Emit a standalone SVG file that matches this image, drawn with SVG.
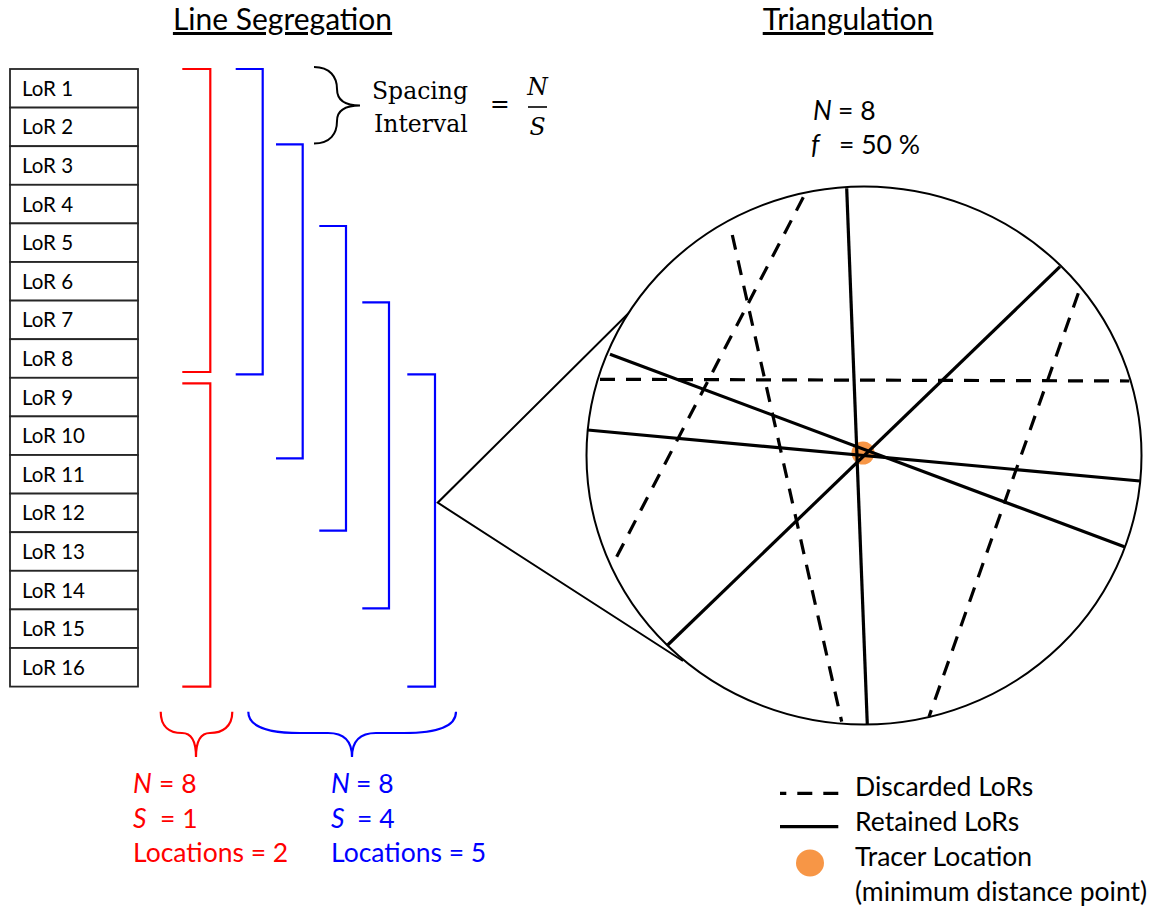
<svg xmlns="http://www.w3.org/2000/svg" width="1163" height="907" viewBox="0 0 1163 907">
<style>
.box{fill:#fff;stroke:#262626;stroke-width:1.8}
.lor{font-family:Lato,"Open Sans",sans-serif;font-size:20.5px;fill:#000}
.t{font-family:Lato,"Open Sans",sans-serif;fill:#000}
.title{font-size:30px;text-decoration:underline}
.big{font-size:26.5px}
.rt{fill:#FF0000}
.bt{fill:#0000FF}
.serif{font-family:"DejaVu Serif","Liberation Serif",serif;font-size:23.5px;fill:#000}
.it{font-style:italic}
.red{stroke:#FF0000;fill:none;stroke-width:2.2}
.blue{stroke:#0000FF;fill:none;stroke-width:2.2}
.thin{stroke:#000;fill:none;stroke-width:2}
.solid{stroke:#000;fill:none;stroke-width:3.2}
.dash{stroke:#000;fill:none;stroke-width:3.2;stroke-dasharray:15 11}
</style>
<rect width="1163" height="907" fill="#fff"/>
<text class="t title" x="282.5" y="30" text-anchor="middle">Line Segregation</text>
<text class="t title" x="848" y="30" text-anchor="middle">Triangulation</text>

<g id="lor-table">
<g id="lor1"><rect class="box" x="10" y="69" width="128" height="38.6"/><text class="lor" x="22" y="95.7">LoR 1</text></g>
<g id="lor2"><rect class="box" x="10" y="107.6" width="128" height="38.6"/><text class="lor" x="22" y="134.3">LoR 2</text></g>
<g id="lor3"><rect class="box" x="10" y="146.2" width="128" height="38.6"/><text class="lor" x="22" y="172.9">LoR 3</text></g>
<g id="lor4"><rect class="box" x="10" y="184.8" width="128" height="38.6"/><text class="lor" x="22" y="211.5">LoR 4</text></g>
<g id="lor5"><rect class="box" x="10" y="223.4" width="128" height="38.6"/><text class="lor" x="22" y="250.1">LoR 5</text></g>
<g id="lor6"><rect class="box" x="10" y="262" width="128" height="38.6"/><text class="lor" x="22" y="288.7">LoR 6</text></g>
<g id="lor7"><rect class="box" x="10" y="300.6" width="128" height="38.6"/><text class="lor" x="22" y="327.3">LoR 7</text></g>
<g id="lor8"><rect class="box" x="10" y="339.2" width="128" height="38.6"/><text class="lor" x="22" y="365.9">LoR 8</text></g>
<g id="lor9"><rect class="box" x="10" y="377.8" width="128" height="38.6"/><text class="lor" x="22" y="404.5">LoR 9</text></g>
<g id="lor10"><rect class="box" x="10" y="416.4" width="128" height="38.6"/><text class="lor" x="22" y="443.1">LoR 10</text></g>
<g id="lor11"><rect class="box" x="10" y="455" width="128" height="38.6"/><text class="lor" x="22" y="481.7">LoR 11</text></g>
<g id="lor12"><rect class="box" x="10" y="493.6" width="128" height="38.6"/><text class="lor" x="22" y="520.3">LoR 12</text></g>
<g id="lor13"><rect class="box" x="10" y="532.2" width="128" height="38.6"/><text class="lor" x="22" y="558.9">LoR 13</text></g>
<g id="lor14"><rect class="box" x="10" y="570.8" width="128" height="38.6"/><text class="lor" x="22" y="597.5">LoR 14</text></g>
<g id="lor15"><rect class="box" x="10" y="609.4" width="128" height="38.6"/><text class="lor" x="22" y="636.1">LoR 15</text></g>
<g id="lor16"><rect class="box" x="10" y="648" width="128" height="38.6"/><text class="lor" x="22" y="674.7">LoR 16</text></g>
</g>

<g id="connectors">
<path class="red" d="M182.3,69 H210.3 V372 H182.3"/>
<path class="red" d="M182.3,383.3 H210.3 V686.7 H182.3"/>
<path class="blue" d="M235.7,69 H262.7 V374.3 H235.7"/>
<path class="blue" d="M276,144.3 H302.7 V458.3 H276"/>
<path class="blue" d="M319.3,226 H346 V530.7 H319.3"/>
<path class="blue" d="M362.3,302.3 H389 V608.3 H362.3"/>
<path class="blue" d="M407.3,374.3 H435 V686.7 H407.3"/>
<path class="thin" d="M630,311.7 L437.7,502.7 L683,661"/>
<path class="thin" stroke-width="2.8" d="M314,67 C330,67 337,77 337,89 C337,100 344,105.5 360,105.5 C344,105.5 337,111 337,121 C337,134 330,143.5 314,143.5"/>
<path class="red" stroke-width="2.4" d="M160.7,711.7 C160.7,727 170,733 182,733 C191,733 196,741 196,757 C196,741 201,733 210,733 C222,733 232.3,727 232.3,711.7"/>
<path class="blue" stroke-width="2.4" d="M248.3,711.7 C248.3,727 268,733 300,733 L328,733 C344,733 352,741 352,757 C352,741 360,733 376,733 L404,733 C436,733 456,727 456,711.7"/>
</g>

<g id="spacing-formula">
<text class="serif" x="372" y="98.5">Spacing</text>
<text class="serif" x="374" y="131.5">Interval</text>
<text class="serif" x="490" y="112">=</text>
<text class="serif it" x="537.5" y="95" text-anchor="middle">N</text>
<line x1="528" y1="107" x2="547" y2="107" stroke="#000" stroke-width="1.6"/>
<text class="serif it" x="537.5" y="135" text-anchor="middle">S</text>
</g>

<g id="red-params">
<text class="t big rt" x="133" y="793"><tspan class="it">N</tspan><tspan x="159">= 8</tspan></text>
<text class="t big rt" x="133" y="828"><tspan class="it">S</tspan><tspan x="160">= 1</tspan></text>
<text class="t big rt" x="133" y="862">Locations = 2</text>
</g>
<g id="blue-params">
<text class="t big bt" x="331" y="793"><tspan class="it">N</tspan><tspan x="356">= 8</tspan></text>
<text class="t big bt" x="331" y="828"><tspan class="it">S</tspan><tspan x="357">= 4</tspan></text>
<text class="t big bt" x="331" y="862">Locations = 5</text>
</g>

<g id="tri-params">
<text class="t big" x="813" y="120"><tspan class="it">N</tspan><tspan x="838">= 8</tspan></text>
<text class="t big" x="811" y="154"><tspan class="it">f</tspan><tspan x="839">= 50 %</tspan></text>
</g>

<g id="triangulation">
<ellipse cx="864" cy="455.5" rx="277.5" ry="269" fill="#fff" stroke="#000" stroke-width="2"/>
<ellipse id="tracer" cx="863" cy="453" rx="11.5" ry="11.5" fill="#F79646"/>
<line class="dash" x1="600" y1="379.3" x2="1129.3" y2="381"/>
<line class="dash" x1="803.3" y1="197.3" x2="613.3" y2="563.3"/>
<line class="dash" x1="732.3" y1="235" x2="841.7" y2="721.7"/>
<line class="dash" x1="1078.3" y1="293.3" x2="929" y2="716.7"/>
<line class="solid" x1="846.7" y1="188.3" x2="867.3" y2="724.5"/>
<line class="solid" x1="1060" y1="266.7" x2="667.7" y2="645"/>
<line class="solid" x1="610" y1="354.3" x2="1124.3" y2="546.7"/>
<line class="solid" x1="587.7" y1="430" x2="1140" y2="481"/>
</g>

<g id="legend">
<line class="dash" x1="838.3" y1="793.3" x2="780" y2="793.3"/>
<line class="solid" x1="780" y1="826.7" x2="838.3" y2="826.7"/>
<ellipse cx="810" cy="863" rx="14" ry="13.5" fill="#F79646"/>
<text class="t big" x="855" y="796">Discarded LoRs</text>
<text class="t big" x="855" y="831">Retained LoRs</text>
<text class="t big" x="855" y="866">Tracer Location</text>
<text class="t big" x="855" y="901">(minimum distance point)</text>
</g>
</svg>
